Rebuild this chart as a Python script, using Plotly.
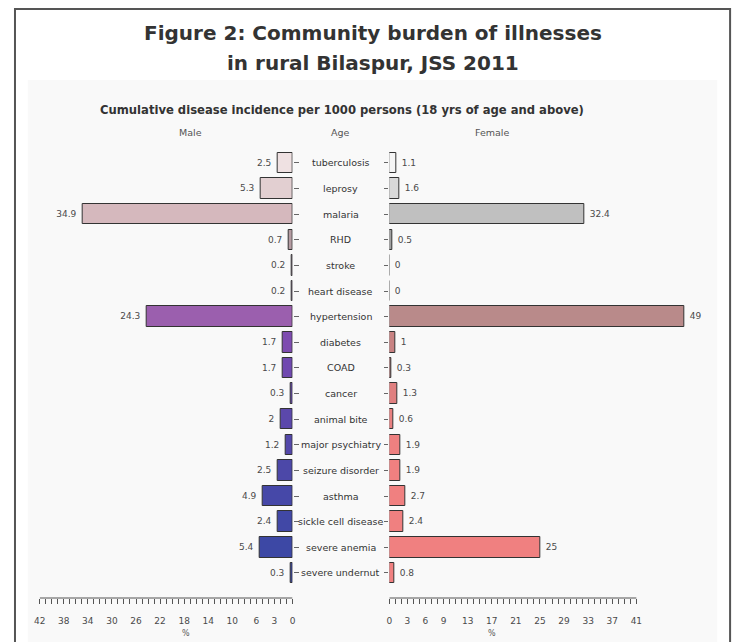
import plotly.graph_objects as go

# ---------------- data ----------------
categories = ["tuberculosis", "leprosy", "malaria", "RHD", "stroke", "heart disease",
              "hypertension", "diabetes", "COAD", "cancer", "animal bite",
              "major psychiatry", "seizure disorder", "asthma", "sickle cell disease",
              "severe anemia", "severe undernut"]
male = [2.5, 5.3, 34.9, 0.7, 0.2, 0.2, 24.3, 1.7, 1.7, 0.3, 2, 1.2, 2.5, 4.9, 2.4, 5.4, 0.3]
female = [1.1, 1.6, 32.4, 0.5, 0, 0, 49, 1, 0.3, 1.3, 0.6, 1.9, 1.9, 2.7, 2.4, 25, 0.8]

male_colors = ["#efe1e2", "#e2cfd1", "#d5b8bd", "#b59ca2", "#a88aa6", "#a07aa8",
               "#9b5fae", "#7e4cb0", "#7049b0", "#6548ad", "#5b48ab", "#5448aa",
               "#4c48a8", "#4648a8", "#4148a6", "#3d48a5", "#3a47a4"]
female_colors = ["#f5f5f5", "#d9d9d9", "#c0c0c0", "#a0a0a0", "#989090", "#a08888",
                 "#b98a8a", "#c88282", "#a87474", "#e08080", "#e88080", "#ee8080",
                 "#f08080", "#f08080", "#f08080", "#f08080", "#f08080"]

left_tick_vals = [42, 38, 34, 30, 26, 22, 18, 14, 10, 6, 3, 0]
right_tick_vals = [0, 3, 6, 9, 13, 17, 21, 25, 29, 33, 37, 41]

title_line1 = "Figure 2: Community burden of illnesses"
title_line2 = "in rural Bilaspur, JSS 2011"
subtitle = "Cumulative disease incidence per 1000 persons (18 yrs of age and above)"
left_label, mid_label, right_label = "Male", "Age", "Female"
unit_label = "%"

# ---------------- layout helpers ----------------
# the page body adds an 8px margin; positions below are window pixels
OFF = 8
W, H = 740 - OFF, 642 - OFF


def px(x):
    return (x - OFF) / W


def py(y):
    return 1 - (y - OFF) / H


FONT = "DejaVu Sans, Liberation Sans, Arial, sans-serif"
TXT = "#4a4a4a"
idx = list(range(len(categories)))

fig = go.Figure()

fig.add_trace(go.Bar(
    y=idx, x=male, orientation="h", xaxis="x", yaxis="y",
    marker=dict(color=male_colors, line=dict(color="#333333", width=1)),
    width=0.8, text=male, texttemplate="%{x} ", textposition="outside",
    textfont=dict(size=9, color=TXT, family=FONT), cliponaxis=False,
    showlegend=False, hoverinfo="skip"))

fig.add_trace(go.Bar(
    y=idx, x=female, orientation="h", xaxis="x2", yaxis="y2",
    marker=dict(color=female_colors, line=dict(color="#333333", width=1)),
    width=0.8, text=female, texttemplate=" %{x}", textposition="outside",
    textfont=dict(size=9, color=TXT, family=FONT), cliponaxis=False,
    showlegend=False, hoverinfo="skip"))

ydom = [py(598), py(145)]
yrange = [16.976, -0.702]

axis_common = dict(showgrid=False, zeroline=False, showline=False, ticks="outside",
                   ticklen=5, tickwidth=1, tickcolor="#555555",
                   tickfont=dict(size=9, color=TXT, family=FONT),
                   ticklabelstandoff=9, fixedrange=True)

fig.update_layout(
    width=W, height=H,
    margin=dict(l=0, r=0, t=0, b=0),
    paper_bgcolor="white", plot_bgcolor="rgba(0,0,0,0)",
    font=dict(family=FONT, color=TXT),
    bargap=0,
    xaxis=dict(domain=[px(34), px(290)], range=[42, 0], anchor="y",
               tickmode="array", tickvals=left_tick_vals,
               ticktext=[str(v) for v in left_tick_vals],
               minor=dict(tickmode="array",
                          tickvals=list(range(0, max(left_tick_vals) + 1)),
                          ticklen=5, tickcolor="#555555", ticks="outside"),
               **axis_common),
    xaxis2=dict(domain=[px(388), px(693)], range=[0, 50], anchor="y2",
                tickmode="array", tickvals=right_tick_vals,
                ticktext=[str(v) for v in right_tick_vals],
                minor=dict(tickmode="array",
                           tickvals=list(range(0, max(right_tick_vals) + 1)),
                           ticklen=5, tickcolor="#555555", ticks="outside"),
                **axis_common),
    yaxis=dict(domain=ydom, range=yrange, anchor="x", side="right",
               showgrid=False, zeroline=False, showline=False,
               ticks="outside", ticklen=5, tickcolor="#666666",
               tickvals=idx, showticklabels=False, fixedrange=True),
    yaxis2=dict(domain=ydom, range=yrange, anchor="x2", side="left",
                showgrid=False, zeroline=False, showline=False,
                ticks="outside", ticklen=4, tickcolor="#666666",
                tickvals=idx, showticklabels=False, fixedrange=True),
)

shapes = [
    # light panel background
    dict(type="rect", xref="paper", yref="paper", x0=px(22), x1=px(720),
         y0=py(H + OFF + 10), y1=py(80), fillcolor="#f9f9f9", line=dict(width=0),
         layer="below"),
    # outer frame
    dict(type="rect", xref="paper", yref="paper", x0=px(9), x1=px(733),
         y0=py(H + OFF + 10), y1=py(9), line=dict(color="#555555", width=2),
         fillcolor="rgba(0,0,0,0)"),
    # axis lines spanning the tick range
    dict(type="line", xref="x", yref="y domain", x0=max(left_tick_vals), x1=0,
         y0=0, y1=0, line=dict(color="#555555", width=1)),
    dict(type="line", xref="x2", yref="y2 domain", x0=0, x1=max(right_tick_vals),
         y0=0, y1=0, line=dict(color="#555555", width=1)),
]
fig.update_layout(shapes=shapes)

ann = []
ann.append(dict(text="<b>" + title_line1 + "</b>", x=px(371), y=py(33),
                font=dict(size=20, color="#333333", family=FONT)))
ann.append(dict(text="<b>" + title_line2 + "</b>", x=px(371), y=py(63),
                font=dict(size=20, color="#333333", family=FONT)))
ann.append(dict(text="<b>" + subtitle + "</b>", x=px(340), y=py(110),
                font=dict(size=11.6, color="#333333", family=FONT)))
ann.append(dict(text=left_label, x=px(187), y=py(132),
                font=dict(size=9.5, color="#555555", family=FONT)))
ann.append(dict(text=mid_label, x=px(339), y=py(132),
                font=dict(size=9.5, color="#555555", family=FONT)))
ann.append(dict(text=right_label, x=px(492), y=py(132),
                font=dict(size=9.5, color="#555555", family=FONT)))
ann.append(dict(text=unit_label, x=px(182), y=py(633),
                font=dict(size=8, color="#555555", family=FONT)))
ann.append(dict(text=unit_label, x=px(492), y=py(633),
                font=dict(size=8, color="#555555", family=FONT)))
for a in ann:
    a.update(xref="paper", yref="paper", showarrow=False,
             xanchor="center", yanchor="middle")

for i, c in enumerate(categories):
    ann.append(dict(text=c, xref="paper", yref="y", x=px(339), y=i,
                    showarrow=False, xanchor="center", yanchor="middle",
                    font=dict(size=9.5, color="#333333", family=FONT)))

fig.update_layout(annotations=ann)

fig.write_html("out.html")
